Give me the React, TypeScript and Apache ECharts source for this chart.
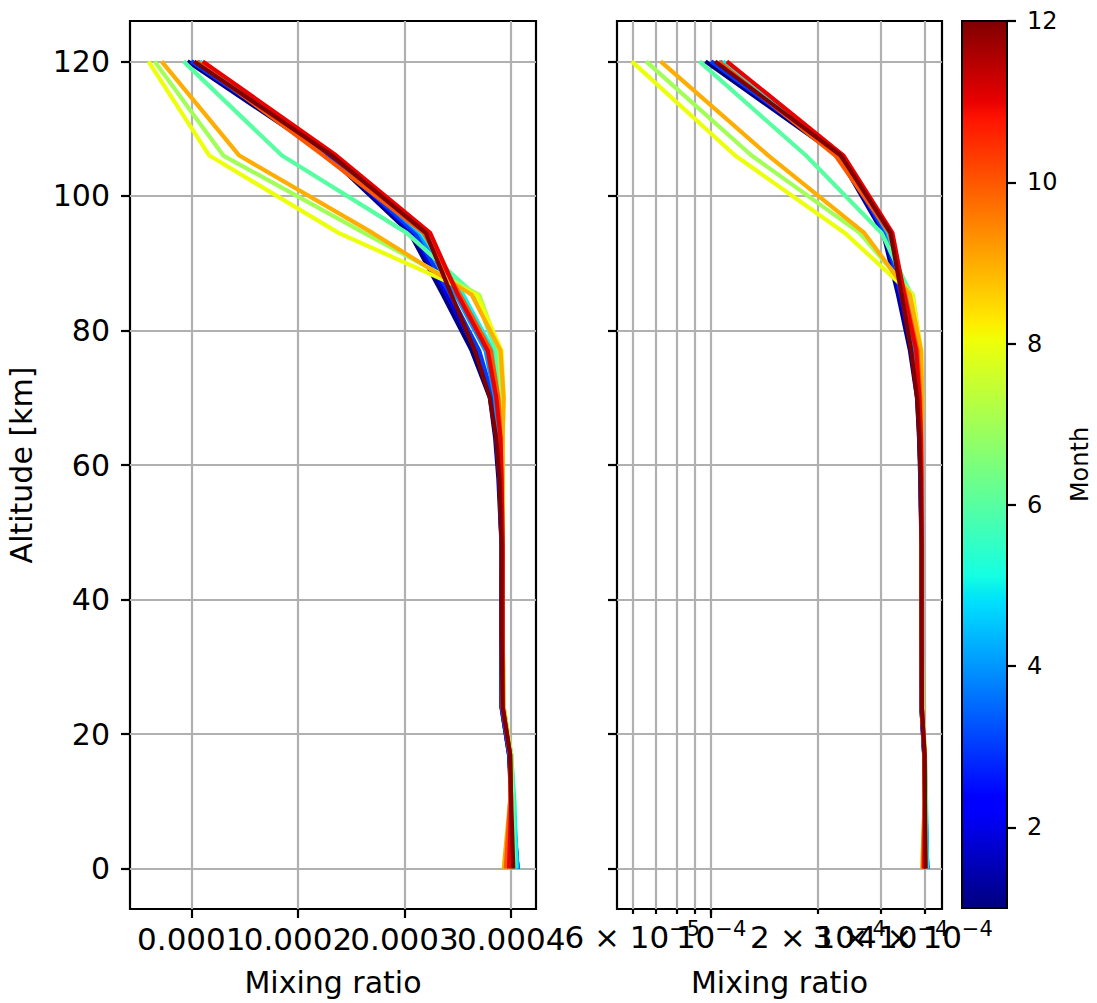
import React, { useEffect, useRef } from "react";
import * as echarts from "echarts";

// ---------------- data ----------------
const months = [1, 2, 3, 4, 5, 6, 7, 8, 9, 10, 11, 12];
const altitude = [0, 10, 17, 24, 35, 48, 58, 64, 70, 77, 85.3, 94.5, 106, 120];

const jan = [4.06e-4, 4.0e-4, 3.98e-4, 3.91e-4, 3.91e-4, 3.91e-4, 3.88e-4, 3.85e-4, 3.8e-4, 3.63e-4, 3.36e-4, 3.05e-4, 2.28e-4, 0.964e-4];
const feb = [4.06e-4, 4.01e-4, 3.98e-4, 3.91e-4, 3.91e-4, 3.91e-4, 3.89e-4, 3.86e-4, 3.82e-4, 3.67e-4, 3.4e-4, 3.08e-4, 2.3e-4, 1.0e-4];
const mar = [4.06e-4, 4.01e-4, 3.98e-4, 3.91e-4, 3.91e-4, 3.91e-4, 3.89e-4, 3.86e-4, 3.83e-4, 3.7e-4, 3.43e-4, 3.1e-4, 2.31e-4, 1.0e-4];
const apr = [4.06e-4, 4.02e-4, 3.99e-4, 3.92e-4, 3.92e-4, 3.91e-4, 3.9e-4, 3.88e-4, 3.85e-4, 3.76e-4, 3.48e-4, 3.14e-4, 2.33e-4, 1.06e-4];
const may = [4.05e-4, 4.03e-4, 4.0e-4, 3.92e-4, 3.92e-4, 3.92e-4, 3.91e-4, 3.9e-4, 3.87e-4, 3.83e-4, 3.55e-4, 3.16e-4, 2.34e-4, 1.08e-4];
const jun = [4.03e-4, 4.02e-4, 4.0e-4, 3.93e-4, 3.92e-4, 3.92e-4, 3.92e-4, 3.91e-4, 3.89e-4, 3.86e-4, 3.66e-4, 3.02e-4, 1.85e-4, 0.927e-4];
const jul = [3.99e-4, 4.01e-4, 4.0e-4, 3.93e-4, 3.92e-4, 3.92e-4, 3.92e-4, 3.92e-4, 3.91e-4, 3.89e-4, 3.7e-4, 2.62e-4, 1.3e-4, 0.656e-4];
const aug = [3.96e-4, 4.0e-4, 3.99e-4, 3.93e-4, 3.92e-4, 3.92e-4, 3.92e-4, 3.92e-4, 3.93e-4, 3.91e-4, 3.68e-4, 2.38e-4, 1.169e-4, 0.598e-4];
const sep = [3.93e-4, 3.99e-4, 3.99e-4, 3.93e-4, 3.92e-4, 3.92e-4, 3.92e-4, 3.92e-4, 3.93e-4, 3.9e-4, 3.63e-4, 2.7e-4, 1.45e-4, 0.721e-4];
const oct = [3.95e-4, 3.99e-4, 3.99e-4, 3.92e-4, 3.92e-4, 3.92e-4, 3.91e-4, 3.9e-4, 3.88e-4, 3.81e-4, 3.52e-4, 3.18e-4, 2.24e-4, 1.05e-4];
const nov = [3.98e-4, 4.0e-4, 3.99e-4, 3.92e-4, 3.92e-4, 3.92e-4, 3.91e-4, 3.9e-4, 3.86e-4, 3.78e-4, 3.5e-4, 3.24e-4, 2.36e-4, 1.107e-4];
const dec = [4.02e-4, 4.0e-4, 3.99e-4, 3.92e-4, 3.91e-4, 3.91e-4, 3.89e-4, 3.86e-4, 3.8e-4, 3.66e-4, 3.44e-4, 3.2e-4, 2.32e-4, 1.026e-4];
const profiles = [jan, feb, mar, apr, may, jun, jul, aug, sep, oct, nov, dec];

const altTicks = [0, 20, 40, 60, 80, 100, 120];
const linTicks = [1e-4, 2e-4, 3e-4, 4e-4];
const logTicks = [6e-5, 7e-5, 8e-5, 9e-5, 1e-4, 2e-4, 3e-4, 4e-4];
const logMajorTicks = [1e-4];
const logLabels = [6e-5, 1e-4, 2e-4, 3e-4, 4e-4];
const monthTicks = [2, 4, 6, 8, 10, 12];

// ---------------- helpers ----------------
const FONT = "DejaVu Sans";

function interp(pts: number[][], t: number): number {
  for (let i = 0; i < pts.length - 1; i++) {
    const [x0, y0] = pts[i];
    const [x1, y1] = pts[i + 1];
    if (t >= x0 && t <= x1) return y0 + ((y1 - y0) * (t - x0)) / (x1 - x0);
  }
  return pts[pts.length - 1][1];
}
function jet(t: number): string {
  const r = interp([[0, 0], [0.35, 0], [0.66, 1], [0.89, 1], [1, 0.5]], t);
  const g = interp([[0, 0], [0.125, 0], [0.375, 1], [0.64, 1], [0.91, 0], [1, 0]], t);
  const b = interp([[0, 0.5], [0.11, 1], [0.34, 1], [0.65, 0], [1, 0]], t);
  const h = (v: number) => Math.round(v * 255).toString(16).padStart(2, "0");
  return "#" + h(r) + h(g) + h(b);
}
const jetStops = [0, 0.11, 0.125, 0.34, 0.35, 0.375, 0.64, 0.65, 0.66, 0.89, 0.91, 1].map((o) => ({
  offset: o,
  color: jet(o),
}));

function logLabel(v: number): string {
  const e = Math.floor(Math.log10(v) + 1e-9);
  const m = Math.round(v / Math.pow(10, e));
  const exp = `{s|\u2212${-e}}`;
  return m === 1 ? `{b|10}${exp}` : `{b|${m} \u00d7 10}${exp}`;
}

// labels are split over several axes so that ECharts' min/max label overlap check hides none
const pick = (arr: number[], idx: number[]) => idx.map((i) => arr[i]);

const black = "#000";
const gridColor = "#b0b0b0";

export default function App() {
  const ref = useRef<HTMLDivElement>(null);
  useEffect(() => {
    if (!ref.current) return;
    const chart = echarts.init(ref.current, undefined, { renderer: "svg" });
    const mMin = months[0];
    const mMax = months[months.length - 1];

    const series: any[] = [];
    profiles.forEach((p, i) => {
      const color = jet((months[i] - mMin) / (mMax - mMin));
      const data = p.map((v, k) => [v, altitude[k]]);
      const base = {
        type: "line",
        data,
        showSymbol: false,
        symbol: "none",
        lineStyle: { color, width: 4.2 },
        itemStyle: { color },
        emphasis: { disabled: true },
        z: 3,
      };
      series.push({ ...base, xAxisIndex: 0, yAxisIndex: 0 });
      series.push({ ...base, xAxisIndex: 2, yAxisIndex: 1 });
    });
    series.push({
      type: "custom",
      xAxisIndex: 5,
      yAxisIndex: 2,
      data: [[0, mMin, 1, mMax]],
      renderItem: (params: any, api: any) => {
        const p0 = api.coord([api.value(0), api.value(3)]);
        const p1 = api.coord([api.value(2), api.value(1)]);
        return {
          type: "rect",
          shape: { x: p0[0], y: p0[1], width: p1[0] - p0[0], height: p1[1] - p0[1] },
          style: {
            fill: new echarts.graphic.LinearGradient(0, 1, 0, 0, jetStops),
            stroke: black,
            lineWidth: 2,
          },
        };
      },
    });

    const gridBase = {
      show: true,
      borderColor: black,
      borderWidth: 2.2,
      backgroundColor: "transparent",
      containLabel: false,
      outerBoundsMode: "none",
      top: 21,
      bottom: 94,
    };

    const tickStyle = { color: black, width: 2.2 };
    const splitStyle = { show: true, lineStyle: { color: gridColor, width: 2.2 } };
    const noLine = { show: false, onZero: false };
    const nameStyle = { fontSize: 30, fontFamily: FONT, color: black };

    const linLabel = (values: number[]) => ({
      customValues: values,
      formatter: (v: number) => v.toFixed(4),
      fontSize: 31,
      fontFamily: FONT,
      color: black,
      margin: 14,
      hideOverlap: false,
    });
    const logLabelOpt = (values: number[]) => ({
      customValues: values,
      formatter: logLabel,
      margin: 9,
      hideOverlap: false,
      rich: {
        b: { fontSize: 31, lineHeight: 38, fontFamily: FONT, color: black },
        s: { fontSize: 21, lineHeight: 21, fontFamily: FONT, color: black, verticalAlign: "top" },
      },
    });

    const linBase = {
      type: "value",
      gridIndex: 0,
      min: 4.25e-5,
      max: 4.233e-4,
      position: "bottom",
      axisLine: noLine,
    };
    const logBase = {
      type: "log",
      logBase: 10,
      gridIndex: 1,
      min: 5.434e-5,
      max: 4.468e-4,
      position: "bottom",
      axisLine: noLine,
    };

    const option: any = {
      animation: false,
      backgroundColor: "#fff",
      textStyle: { fontFamily: FONT, color: black },
      grid: [
        { ...gridBase, left: 130, right: 561 },
        { ...gridBase, left: 617, right: 155 },
        { ...gridBase, show: false, left: 962, right: 90, top: 21, bottom: 95 },
      ],
      xAxis: [
        {
          ...linBase,
          axisTick: { show: true, inside: false, customValues: linTicks, length: 9, lineStyle: tickStyle },
          axisLabel: linLabel(pick(linTicks, [0, 2])),
          splitLine: splitStyle,
          name: "Mixing ratio",
          nameLocation: "middle",
          nameGap: 58,
          nameMoveOverlap: false,
          nameTextStyle: nameStyle,
        },
        {
          ...linBase,
          axisTick: { show: false },
          axisLabel: linLabel(pick(linTicks, [1, 3])),
          splitLine: { show: false },
        },
        {
          ...logBase,
          axisTick: { show: true, inside: false, customValues: logTicks, length: 5, lineStyle: tickStyle },
          axisLabel: logLabelOpt(pick(logLabels, [0, 3])),
          splitLine: splitStyle,
          minorSplitLine: { show: false },
          name: "Mixing ratio",
          nameLocation: "middle",
          nameGap: 58,
          nameMoveOverlap: false,
          nameTextStyle: nameStyle,
        },
        {
          ...logBase,
          axisTick: { show: true, inside: false, customValues: logMajorTicks, length: 9, lineStyle: tickStyle },
          axisLabel: logLabelOpt(pick(logLabels, [1, 4])),
          splitLine: { show: false },
        },
        {
          ...logBase,
          axisTick: { show: false },
          axisLabel: logLabelOpt(pick(logLabels, [2])),
          splitLine: { show: false },
        },
        {
          type: "value",
          gridIndex: 2,
          min: 0,
          max: 1,
          show: false,
          position: "bottom",
          axisLine: noLine,
        },
      ],
      yAxis: [
        {
          type: "value",
          gridIndex: 0,
          min: -6,
          max: 126,
          position: "left",
          axisLine: noLine,
          axisTick: { show: true, inside: false, customValues: altTicks, length: 9, lineStyle: tickStyle },
          axisLabel: {
            customValues: altTicks,
            fontSize: 30,
            fontFamily: FONT,
            color: black,
            margin: 20,
          },
          splitLine: splitStyle,
          name: "Altitude [km]",
          nameLocation: "middle",
          nameGap: 94,
          nameMoveOverlap: false,
          nameTextStyle: nameStyle,
        },
        {
          type: "value",
          gridIndex: 1,
          min: -6,
          max: 126,
          position: "left",
          axisLine: noLine,
          axisTick: { show: true, inside: false, customValues: altTicks, length: 9, lineStyle: tickStyle },
          axisLabel: { show: false, customValues: altTicks },
          splitLine: splitStyle,
        },
        {
          type: "value",
          gridIndex: 2,
          min: mMin,
          max: mMax,
          position: "right",
          axisLine: noLine,
          axisTick: { show: true, inside: false, customValues: monthTicks, length: 9, lineStyle: tickStyle },
          axisLabel: {
            customValues: monthTicks,
            fontSize: 24,
            fontFamily: FONT,
            color: black,
            margin: 20,
          },
          splitLine: { show: false },
          name: "Month",
          nameLocation: "middle",
          nameGap: 61,
          nameMoveOverlap: false,
          nameTextStyle: { fontSize: 24, fontFamily: FONT, color: black },
        },
      ],
      series,
    };
    chart.setOption(option);
    return () => chart.dispose();
  }, []);

  return (
    <div
      ref={ref}
      style={{ position: "absolute", left: 0, top: 0, width: 1097, height: 1003, background: "#fff" }}
    />
  );
}
